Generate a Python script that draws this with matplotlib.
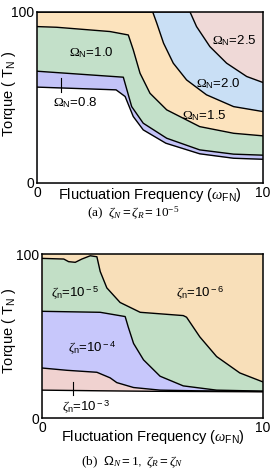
import numpy as np
import matplotlib.pyplot as plt

# ---- panel (a): zeta_N = zeta_R = 1e-5, boundaries between Omega_N regions ----
a_x08 = [0, 3.5, 3.9, 4.26, 4.7, 5.7, 7.2, 8.7, 10]
a_y08 = [56, 54.4, 50.5, 38.8, 31, 23.2, 17, 14.4, 13.8]
a_x10 = [0, 3.82, 4.19, 4.7, 5.74, 7.2, 8.7, 10]
a_y10 = [65.3, 61.8, 44.6, 34.9, 26.1, 19.3, 16.8, 16.2]
a_x15 = [0, 0.87, 3.23, 4.04, 4.26, 4.56, 5.0, 5.74, 7.2, 8.7, 10]
a_y15 = [91.4, 91, 88.5, 86.5, 77.8, 64.1, 52.4, 42.7, 32.9, 29, 27.5]
a_x20 = [0, 5.12, 5.3, 5.6, 6.03, 6.62, 7.5, 8.7, 10]
a_y20 = [100, 100, 93.4, 81.7, 70, 60.2, 51.5, 44.6, 41.7]
a_x25 = [0, 6.77, 7.06, 7.65, 8.39, 9.28, 10]
a_y25 = [100, 100, 91.4, 79.7, 70, 62.2, 58.7]

# ---- panel (b): Omega_N = 1, boundaries between zeta_n regions ----
b_x3 = [0, 2.63, 5.0, 10]
b_y3 = [17, 16.6, 16.3, 16]
b_x4 = [0, 1.13, 2.48, 3.08, 3.38, 4.14, 5.34, 7.0, 10]
b_y4 = [30.5, 29.1, 27.9, 24.5, 21.6, 18.6, 17, 16.6, 16.2]
b_x5 = [0, 2.63, 3.76, 3.9, 4.14, 4.59, 5.34, 6.39, 7.9, 10]
b_y5 = [65.1, 64.5, 61.9, 55.5, 45.5, 35.5, 25.5, 19.6, 17, 16.4]
b_x6 = [0, 0.98, 1.2, 1.5, 1.8, 2.18, 2.48, 2.63, 2.93, 3.53, 4.44, 6.39, 6.54, 7.14, 7.9, 8.95, 10]
b_y6 = [97.4, 97, 95.4, 95, 97, 99, 98.4, 89.4, 79.4, 70.5, 64.5, 62.5, 61.5, 49.5, 37.5, 27.5, 22]

plt.rcParams['font.family'] = ['Liberation Sans', 'DejaVu Sans']
plt.rcParams['mathtext.fontset'] = 'custom'
plt.rcParams['mathtext.rm'] = 'Liberation Sans'
plt.rcParams['mathtext.it'] = 'Liberation Serif:italic'
plt.rcParams['mathtext.tt'] = 'Liberation Serif'

fig = plt.figure(figsize=(2.7, 4.75), dpi=100)
ax1 = fig.add_axes([0.137, 0.615, 0.837, 0.36])
ax2 = fig.add_axes([0.156, 0.12, 0.818, 0.345])

FS = 10.5
LFS = 9.5

def style(ax, ylab_x, ylab_y, xlab_y):
    ax.set_xlim(0, 10)
    ax.set_ylim(0, 100)
    ax.set_xticks([0, 10])
    ax.set_yticks([0, 100])
    ax.tick_params(length=0, labelsize=10, pad=2)
    for s in ax.spines.values():
        s.set_linewidth(1.1)
    ax.set_xlabel('Fluctuation Frequency ($\\omega_{\\rm FN}$)', fontsize=FS)
    ax.set_ylabel('Torque ( T$_{\\rm N}$ )', fontsize=FS)
    ax.yaxis.set_label_coords(ylab_x, ylab_y)
    ax.xaxis.set_label_coords(0.5, xlab_y)

# panel (a) - paint from top down
ax1.set_facecolor('#efd9d7')
layers_a = [(a_x25, a_y25, '#c9dff5'), (a_x20, a_y20, '#fce3bd'),
            (a_x15, a_y15, '#c3e0c9'), (a_x10, a_y10, '#c3c3f7'),
            (a_x08, a_y08, 'white')]
for xs, ys, c in layers_a:
    ax1.fill_between(xs, ys, 0, color=c, lw=0)
for xs, ys, c in layers_a:
    ax1.plot(xs, ys, color='black', lw=1)
style(ax1, -0.084, 0.52, -0.02)
ax1.text(1.4, 74, '$\\mathtt{\\Omega}_{\\rm N}$=1.0', fontsize=LFS)
ax1.text(0.7, 45, '$\\mathtt{\\Omega}_{\\rm N}$=0.8', fontsize=LFS)
ax1.plot([1.06, 1.06], [53, 61.5], color='black', lw=0.8)
ax1.text(6.4, 37, '$\\mathtt{\\Omega}_{\\rm N}$=1.5', fontsize=LFS)
ax1.text(7.05, 56, '$\\mathtt{\\Omega}_{\\rm N}$=2.0', fontsize=LFS)
ax1.text(7.75, 81, '$\\mathtt{\\Omega}_{\\rm N}$=2.5', fontsize=LFS)

# panel (b)
ax2.set_facecolor('#f8dfb9')
layers_b = [(b_x6, b_y6, '#c2dfc6'), (b_x5, b_y5, '#c7c7fb'),
            (b_x4, b_y4, '#f0d2d0'), (b_x3, b_y3, 'white')]
for xs, ys, c in layers_b:
    ax2.fill_between(xs, ys, 0, color=c, lw=0)
for xs, ys, c in layers_b:
    ax2.plot(xs, ys, color='black', lw=1)
style(ax2, -0.109, 0.53, -0.06)
ax2.text(0.4, 74, '$\\zeta_{\\rm n}$=10$^{\\rm -5}$', fontsize=LFS)
ax2.text(6.05, 74, '$\\zeta_{\\rm n}$=10$^{\\rm -6}$', fontsize=LFS)
ax2.text(1.15, 40, '$\\zeta_{\\rm n}$=10$^{\\rm -4}$', fontsize=LFS)
ax2.text(0.9, 4, '$\\zeta_{\\rm n}$=10$^{\\rm -3}$', fontsize=LFS)
ax2.plot([1.39, 1.39], [13.8, 21.7], color='black', lw=0.8)

fig.text(0.495, 0.551, '(a)  $\\zeta_N = \\zeta_R = \\mathtt{10}^{\\mathtt{-5}}$',
         ha='center', va='center', fontsize=9.5, family='Liberation Serif')
fig.text(0.49, 0.027, '(b)  $\\mathit{\\Omega}_N = \\mathtt{1},\\ \\zeta_R = \\zeta_N$',
         ha='center', va='center', fontsize=9.5, family='Liberation Serif')

fig.savefig('out.png', dpi=100)
